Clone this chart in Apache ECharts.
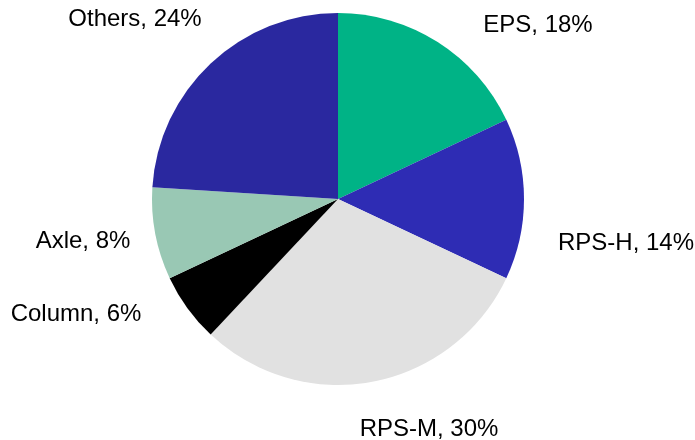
<!DOCTYPE html>
<html>
<head>
<meta charset="utf-8">
<script src="https://cdn.jsdelivr.net/npm/echarts@6/dist/echarts.min.js"></script>
<style>
  html, body { margin: 0; padding: 0; background: #fff; }
  #chart { width: 695px; height: 440px; }
</style>
</head>
<body>
<div id="chart"></div>
<script>
const names = ['EPS', 'RPS-H', 'RPS-M', 'Column', 'Axle', 'Others']
const shares = [18, 14, 30, 6, 8, 24]
const colors = ['#00b386', '#2e2cb4', '#e1e1e1', '#000000', '#99c8b4', '#2a289f']

// label centers (px), picked to match the reference layout
const labelPos = [[538, 25], [626, 243], [429, 429], [76, 314], [83, 241], [135, 19]]

const chart = echarts.init(document.getElementById('chart'))

chart.setOption({
  animation: false,
  series: [{
    type: 'pie',
    center: [338, 199],
    radius: 186,
    startAngle: 90,
    clockwise: true,
    data: names.map((n, i) => ({
      name: n,
      value: shares[i],
      itemStyle: { color: colors[i] }
    })),
    itemStyle: { borderWidth: 0 },
    label: {
      show: true,
      position: 'outside',
      formatter: p => p.name + ', ' + p.value + '%',
      fontFamily: 'Liberation Sans, Arial, sans-serif',
      fontSize: 24,
      color: '#000',
      overflow: 'none',
      width: 300
    },
    labelLine: { show: false },
    labelLayout: p => ({
      x: labelPos[p.dataIndex][0],
      y: labelPos[p.dataIndex][1],
      align: 'center',
      verticalAlign: 'middle'
    }),
    emphasis: { disabled: true }
  }]
})
</script>
</body>
</html>
